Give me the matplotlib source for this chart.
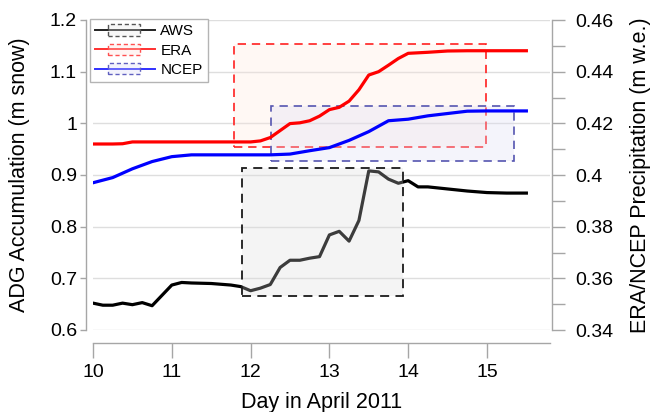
import matplotlib
matplotlib.use("Agg")
import matplotlib.pyplot as plt
from matplotlib.lines import Line2D
from matplotlib.patches import Rectangle
from matplotlib.legend_handler import HandlerBase

plt.rcParams['font.family'] = ['Liberation Sans', 'DejaVu Sans']

# ---- data ---------------------------------------------------------------
aws_day = [10.0, 10.125, 10.25, 10.375, 10.5, 10.625, 10.75, 10.875, 11.0,
           11.125, 11.25, 11.5, 11.75, 11.875, 12.0, 12.125, 12.25, 12.375,
           12.5, 12.625, 12.75, 12.875, 13.0, 13.125, 13.25, 13.375, 13.5,
           13.625, 13.75, 13.875, 14.0, 14.125, 14.25, 14.5, 14.75, 15.0,
           15.25, 15.5]
aws_acc = [0.652, 0.648, 0.648, 0.652, 0.649, 0.653, 0.647, 0.667, 0.687,
           0.692, 0.691, 0.690, 0.687, 0.684, 0.676, 0.681, 0.688, 0.721,
           0.735, 0.735, 0.739, 0.742, 0.784, 0.791, 0.772, 0.812, 0.908,
           0.906, 0.892, 0.884, 0.889, 0.877, 0.877, 0.873, 0.869, 0.866,
           0.865, 0.865]

era_day = [10.0, 10.25, 10.375, 10.5, 11.0, 11.5, 12.0, 12.125, 12.25,
           12.375, 12.5, 12.625, 12.75, 12.875, 13.0, 13.125, 13.25, 13.375,
           13.5, 13.625, 13.75, 13.875, 14.0, 14.25, 14.5, 14.75, 15.0, 15.5]
era_prc = [0.4120, 0.4120, 0.4121, 0.4128, 0.4128, 0.4128, 0.4128, 0.4132,
           0.4145, 0.4172, 0.4199, 0.4202, 0.4210, 0.4228, 0.4253, 0.4262,
           0.4286, 0.4330, 0.4387, 0.4400, 0.4425, 0.4451, 0.4471, 0.4475,
           0.4480, 0.4481, 0.4481, 0.4481]

ncep_day = [10.0, 10.25, 10.5, 10.75, 11.0, 11.25, 11.5, 11.75, 12.0, 12.25,
            12.5, 12.75, 13.0, 13.25, 13.5, 13.75, 14.0, 14.25, 14.5, 14.75,
            15.0, 15.25, 15.5]
ncep_prc = [0.3970, 0.3990, 0.4024, 0.4052, 0.4071, 0.4078, 0.4078, 0.4078,
            0.4078, 0.4078, 0.4081, 0.4094, 0.4106, 0.4134, 0.4168, 0.4210,
            0.4216, 0.4229, 0.4238, 0.4247, 0.4248, 0.4248, 0.4248]

# event windows: (day start, day end, value low, value high)
aws_box = [11.89, 13.93, 0.666, 0.914]
era_box = [11.79, 14.99, 0.4108, 0.4507]
ncep_box = [12.26, 15.34, 0.4054, 0.4267]

series_names = ["AWS", "ERA", "NCEP"]
x_ticks = [10, 11, 12, 13, 14, 15]
left_ticks = [0.6, 0.7, 0.8, 0.9, 1.0, 1.1, 1.2]
left_labels = ["0.6", "0.7", "0.8", "0.9", "1", "1.1", "1.2"]
right_ticks = [0.34, 0.36, 0.38, 0.40, 0.42, 0.44, 0.46]
right_labels = ["0.34", "0.36", "0.38", "0.4", "0.42", "0.44", "0.46"]
right_minor = [0.35, 0.37, 0.39, 0.41, 0.43, 0.45]

# ---- styling --------------------------------------------------------------
AX_GRAY = "#a6a6a6"
GRID_GRAY = "#dedede"
TICK_FS = 14
LABEL_FS = 15.5

fig = plt.figure(figsize=(6.54, 4.12), dpi=100)
ax = fig.add_axes([93 / 654, 1 - 330 / 412, 457 / 654, 310 / 412])
ax2 = ax.twinx()
ax2.set_position(ax.get_position())

# left axis: AWS accumulation
ax.set_xlim(10, 15.8)
ax.set_ylim(0.6, 1.2)
ax.set_yticks(left_ticks)
ax.set_yticklabels(left_labels)
ax.set_xticks(x_ticks)
ax.grid(axis="y", color=GRID_GRAY, lw=1.0)
ax.set_axisbelow(True)

ax.plot(aws_day, aws_acc, color="black", lw=2.3, zorder=3, solid_joinstyle="round")
ax.add_patch(Rectangle((aws_box[0], aws_box[2]), aws_box[1] - aws_box[0],
                       aws_box[3] - aws_box[2], facecolor=(0.86, 0.86, 0.86, 0.28),
                       edgecolor="#1a1a1a", lw=1.3, ls=(0, (5, 3.5)), zorder=4))

# right axis: reanalysis precipitation
ax2.set_ylim(0.34, 0.46)
ax2.set_yticks(right_ticks)
ax2.set_yticklabels(right_labels)
ax2.set_yticks(right_minor, minor=True)

ax2.add_patch(Rectangle((era_box[0], era_box[2]), era_box[1] - era_box[0],
                        era_box[3] - era_box[2], facecolor=(1.0, 0.90, 0.86, 0.28),
                        edgecolor="#ff2020", lw=1.2, ls=(0, (5, 3.5)), zorder=1))
ax2.add_patch(Rectangle((ncep_box[0], ncep_box[2]), ncep_box[1] - ncep_box[0],
                        ncep_box[3] - ncep_box[2], facecolor=(0.86, 0.86, 0.96, 0.30),
                        edgecolor="#5555b0", lw=1.2, ls=(0, (5, 3.5)), zorder=1))
ax2.plot(era_day, era_prc, color="#ff0000", lw=2.3, zorder=3, solid_joinstyle="round")
ax2.plot(ncep_day, ncep_prc, color="#0000ff", lw=2.3, zorder=3, solid_joinstyle="round")

# spines
for a in (ax, ax2):
    for s in a.spines.values():
        s.set_visible(False)
        s.set_color(AX_GRAY)
        s.set_linewidth(1.0)

ax.spines["left"].set_visible(True)
ax.spines["left"].set_position(("outward", 5))
ax.spines["left"].set_bounds(0.6, 1.2)
ax.spines["bottom"].set_visible(True)
ax.spines["bottom"].set_position(("outward", 9.5))
ax2.spines["right"].set_visible(True)
ax2.spines["right"].set_position(("outward", 1.5))
ax2.spines["right"].set_bounds(0.34, 0.46)

ax.tick_params(axis="y", which="major", direction="out", length=4.5, width=1.0,
               color=AX_GRAY, labelsize=TICK_FS, pad=2)
ax.tick_params(axis="x", which="major", direction="out", length=10.5, width=1.0,
               color=AX_GRAY, labelsize=TICK_FS, pad=4.5)
ax2.tick_params(axis="y", which="both", direction="out", length=9.5, width=1.0,
                color=AX_GRAY, labelsize=TICK_FS, pad=7)

ax.set_xlabel("Day in April 2011", fontsize=LABEL_FS)
ax.set_ylabel("ADG Accumulation (m snow)", fontsize=LABEL_FS)
ax2.set_ylabel("ERA/NCEP Precipitation (m w.e.)", fontsize=LABEL_FS)
ax.xaxis.set_label_coords(0.5, -0.2)
ax.yaxis.set_label_coords(-0.138, 0.5)
ax2.yaxis.set_label_coords(1.175, 0.5)


# legend keys: series line with a dashed window box across it
class BoxKey:
    def __init__(self, line_color, edge_color, face_color):
        self.line_color = line_color
        self.edge_color = edge_color
        self.face_color = face_color


class BoxKeyHandler(HandlerBase):
    def create_artists(self, legend, orig_handle, xdescent, ydescent,
                       width, height, fontsize, trans):
        x0 = -xdescent
        yc = -ydescent + height / 2
        line = Line2D([x0, x0 + width], [yc, yc], color=orig_handle.line_color,
                      lw=1.4, transform=trans)
        bh = height * 1.05
        rect = Rectangle((x0 + width * 0.22, yc - bh / 2), width * 0.53, bh,
                         facecolor=orig_handle.face_color,
                         edgecolor=orig_handle.edge_color, lw=1.0,
                         ls=(0, (3, 2)), transform=trans)
        return [line, rect]


keys = [BoxKey("#222222", "#555555", (0.9, 0.9, 0.9, 0.3)),
        BoxKey("#ff3030", "#ff5050", (1.0, 0.88, 0.85, 0.3)),
        BoxKey("#3030ff", "#6060c0", (0.85, 0.85, 0.97, 0.3))]
leg = ax2.legend(keys, series_names, handler_map={BoxKey: BoxKeyHandler()},
                 loc="upper left", bbox_to_anchor=(90 / 654, 1 - 19 / 412),
                 bbox_transform=fig.transFigure, borderaxespad=0,
                 fontsize=11, handlelength=3.9, handleheight=0.7,
                 handletextpad=0.35, labelspacing=0.35, borderpad=0.35,
                 fancybox=False, framealpha=1, edgecolor="#b4b4b4")
leg.get_frame().set_linewidth(1.0)

fig.savefig("out.png", dpi=100)
